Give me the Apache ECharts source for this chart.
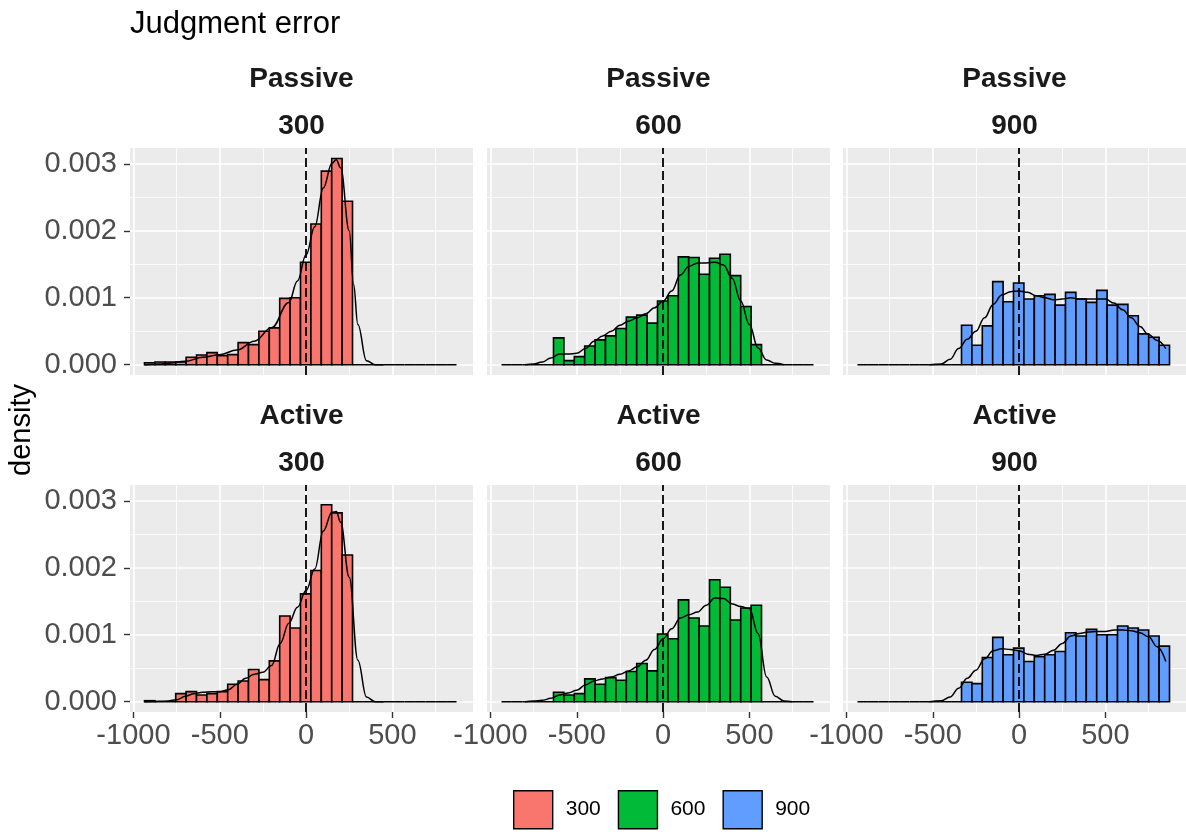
<!DOCTYPE html>
<html><head><meta charset="utf-8">
<script src="https://cdn.jsdelivr.net/npm/echarts@6/dist/echarts.min.js"></script>
<style>html,body{margin:0;padding:0;background:#fff}#c{width:1186px;height:832px}</style>
</head><body><div id="c"></div>
<script>
// ---------------- data ----------------
const categories = ['300', '600', '900'];
const conditions = ['Passive', 'Active'];
const xTicks = [-1000, -500, 0, 500];
const xMinor = [-750, -250, 250, 750];
const yTicks = [0, 0.001, 0.002, 0.003];
const yMinor = [0.0005, 0.0015, 0.0025];
const xRange = [-1020, 967];
const yRange = [-0.000154, 0.003236];
const binStart = -936;
const binWidth = 60.25;

const histPassive300 = [0.00003,0.00004,0.00004,0.00004,0.00011,0.000145,0.00018,0.000135,0.00015,0.00033,0.0003,0.0005,0.00055,0.00099,0.001,0.00153,0.0021,0.00289,0.00308,0.00244,0,0,0,0,0,0,0,0,0,0];
const histPassive600 = [0,0,0,0,0,0.0004,0.00006,0.00012,0.00028,0.00037,0.00043,0.00054,0.00071,0.00074,0.00062,0.00095,0.00103,0.00161,0.0016,0.00135,0.00159,0.00165,0.00133,0.00087,0.0003,0,0,0,0,0];
const histPassive900 = [0,0,0,0,0,0,0,0,0,0,0.00059,0.00029,0.00058,0.00124,0.00094,0.00122,0.00098,0.00103,0.00105,0.00089,0.00108,0.00098,0.00093,0.00111,0.00089,0.0009,0.00073,0.00046,0.00041,0.00029];
const histActive300 = [0.000015,0,0,0.00012,0.00015,0.0001,0.00012,0.00015,0.00026,0.00031,0.00048,0.00033,0.00061,0.00128,0.0011,0.00161,0.00196,0.00294,0.00282,0.00219,0,0,0,0,0,0,0,0,0,0];
const histActive600 = [0,0,0,0,0,0.00014,0.0001,0.00012,0.00034,0.00026,0.00036,0.00032,0.00045,0.00057,0.00046,0.00101,0.00094,0.00152,0.00125,0.00113,0.00182,0.00171,0.00122,0.0014,0.00144,0,0,0,0,0];
const histActive900 = [0,0,0,0,0,0,0,0,0,0,0.00029,0.00027,0.00066,0.00096,0.0007,0.0008,0.0006,0.00067,0.0007,0.00075,0.00103,0.00098,0.00108,0.001,0.001,0.00113,0.0011,0.00107,0.00098,0.00083];

const densPassive300 = [[-936,0],[-850,0.00001],[-800,0.00002],[-700,0.00005],[-600,0.00011],[-500,0.00015],[-400,0.00022],[-300,0.00035],[-200,0.00055],[-100,0.00093],[-50,0.00125],[0,0.00164],[50,0.00206],[100,0.00264],[150,0.00301],[175,0.00306],[200,0.00294],[250,0.002],[275,0.0012],[300,0.0006],[350,0.00006],[400,0],[450,0]];
const densPassive600 = [[-800,0],[-750,0.00001],[-700,0.00004],[-650,0.0001],[-600,0.00016],[-550,0.00016],[-500,0.00017],[-450,0.00024],[-400,0.00035],[-350,0.00043],[-300,0.0005],[-250,0.00059],[-200,0.00065],[-150,0.0007],[-100,0.00076],[-50,0.00085],[0,0.00095],[50,0.0011],[100,0.00134],[150,0.00147],[200,0.00152],[250,0.00152],[300,0.00153],[350,0.00149],[400,0.00129],[450,0.00095],[500,0.0006],[550,0.00025],[600,0.00007],[650,0.00002],[700,0]];
const densPassive900 = [[-520,0],[-450,0.00001],[-400,0.00008],[-350,0.00024],[-300,0.00038],[-250,0.0005],[-200,0.0007],[-150,0.0009],[-100,0.00104],[-50,0.00109],[0,0.0011],[50,0.00108],[100,0.00103],[150,0.001],[200,0.00097],[250,0.00098],[300,0.001],[350,0.00098],[400,0.00098],[450,0.00098],[500,0.00098],[550,0.00092],[600,0.00082],[650,0.0007],[700,0.00057],[750,0.00045],[800,0.00036],[850,0.00024]];
const densActive300 = [[-936,0],[-850,0.000005],[-800,0.00001],[-750,0.00003],[-700,0.00008],[-650,0.00012],[-600,0.00014],[-550,0.00015],[-500,0.00015],[-450,0.00018],[-400,0.00026],[-350,0.00035],[-300,0.00041],[-250,0.00044],[-200,0.00054],[-150,0.00087],[-100,0.00117],[-50,0.00141],[0,0.00166],[50,0.00198],[100,0.00255],[150,0.00283],[175,0.00284],[200,0.00268],[250,0.00186],[300,0.00062],[350,0.00007],[400,0],[450,0]];
const densActive600 = [[-800,0],[-750,0.00001],[-700,0.00002],[-650,0.00005],[-600,0.0001],[-550,0.00013],[-500,0.00017],[-450,0.00025],[-400,0.00031],[-350,0.00034],[-300,0.00037],[-250,0.00041],[-200,0.00046],[-150,0.00052],[-100,0.00062],[-50,0.00078],[0,0.00094],[50,0.00109],[100,0.00125],[150,0.0013],[200,0.00134],[250,0.00144],[300,0.00155],[350,0.00154],[400,0.00146],[450,0.00142],[500,0.00139],[550,0.00102],[600,0.00037],[650,0.00008],[700,0.00001],[750,0]];
const densActive900 = [[-520,0],[-450,0.000015],[-400,0.00007],[-350,0.0002],[-300,0.00035],[-250,0.00047],[-200,0.00064],[-150,0.00076],[-100,0.00079],[-50,0.00078],[0,0.00076],[50,0.00071],[100,0.00069],[150,0.00071],[200,0.00077],[250,0.00087],[300,0.00098],[350,0.00102],[400,0.00104],[450,0.00105],[500,0.00105],[550,0.00107],[600,0.00107],[650,0.00106],[700,0.00103],[750,0.00097],[800,0.00082],[850,0.0006]];

// ---------------- layout / style ----------------
const palette = ['#F8766D', '#00BA38', '#619CFF'];
const FONT = '"Liberation Sans", Arial, Helvetica, sans-serif';
const colLeft = [130, 487, 843];
const rowTop = [148, 485];
const gw = 343, gh = 227;

const panels = [
  {row:0, col:0, hist:histPassive300, dens:densPassive300},
  {row:0, col:1, hist:histPassive600, dens:densPassive600},
  {row:0, col:2, hist:histPassive900, dens:densPassive900},
  {row:1, col:0, hist:histActive300, dens:densActive300},
  {row:1, col:1, hist:histActive600, dens:densActive600},
  {row:1, col:2, hist:histActive900, dens:densActive900}
];

const grids = [], xAxes = [], yAxes = [], series = [], graphics = [];

graphics.push({type:'text', x:130, y:24, style:{text:'Judgment error', font:'31px ' + FONT, fill:'#000', align:'left', verticalAlign:'middle'}});
graphics.push({type:'text', x:22, y:430, rotation:Math.PI/2, style:{text:'density', font:'29px ' + FONT, fill:'#000', align:'center', verticalAlign:'middle'}});

panels.forEach((p, i) => {
  const color = palette[p.col];
  grids.push({left:colLeft[p.col], top:rowTop[p.row], width:gw, height:gh, show:true, backgroundColor:'#EBEBEB', borderWidth:0, containLabel:false});
  const bottom = p.row === 1, leftCol = p.col === 0;
  xAxes.push({
    type:'value', gridIndex:i, min:xRange[0], max:xRange[1], position:'bottom',
    axisLine:{show:false, onZero:false}, splitLine:{show:false},
    axisTick:{show:bottom, customValues:xTicks, length:6, lineStyle:{color:'#333333', width:1.4}},
    axisLabel:{show:bottom, customValues:xTicks, fontSize:29, color:'#4D4D4D', margin:9, fontFamily:FONT,
      formatter: v => String(Math.round(v))}
  });
  yAxes.push({
    type:'value', gridIndex:i, min:yRange[0], max:yRange[1], position:'left',
    axisLine:{show:false, onZero:false}, splitLine:{show:false},
    axisTick:{show:leftCol, customValues:yTicks, length:6, lineStyle:{color:'#333333', width:1.4}},
    axisLabel:{show:leftCol, customValues:yTicks, fontSize:29, color:'#4D4D4D', margin:13, fontFamily:FONT,
      formatter: v => Number(v).toFixed(3)}
  });
  // strip labels
  const cx = colLeft[p.col] + gw / 2;
  graphics.push({type:'text', x:cx, y:rowTop[p.row] - 69, style:{text:conditions[p.row], font:'bold 28px ' + FONT, fill:'#1A1A1A', align:'center', verticalAlign:'middle'}});
  graphics.push({type:'text', x:cx, y:rowTop[p.row] - 22, style:{text:categories[p.col], font:'bold 28px ' + FONT, fill:'#1A1A1A', align:'center', verticalAlign:'middle'}});

  const gridLines = []
    .concat(xTicks.map(v => ({xAxis:v, lineStyle:{width:1.6}})))
    .concat(xMinor.map(v => ({xAxis:v, lineStyle:{width:0.8}})))
    .concat(yTicks.map(v => ({yAxis:v, lineStyle:{width:1.6}})))
    .concat(yMinor.map(v => ({yAxis:v, lineStyle:{width:0.8}})));

  // background grid lines (white), drawn through the axes
  series.push({
    type:'line', name:'grid' + i, xAxisIndex:i, yAxisIndex:i, z:1, data:[], silent:true, animation:false,
    markLine:{silent:true, z:1, precision:8, symbol:'none', animation:false, label:{show:false}, emphasis:{disabled:true},
      lineStyle:{color:'#FFFFFF', type:'solid'}, data:gridLines}
  });
  series.push({
    type:'custom', name:categories[p.col], xAxisIndex:i, yAxisIndex:i, z:3,
    itemStyle:{color:color},
    data: p.hist.map((v, k) => [binStart + k * binWidth, binStart + (k + 1) * binWidth, v]),
    encode:{x:[0, 1], y:2},
    renderItem: (params, api) => {
      const a = api.coord([api.value(0), api.value(2)]);
      const b = api.coord([api.value(1), 0]);
      return {type:'rect', shape:{x:a[0], y:a[1], width:b[0] - a[0], height:b[1] - a[1]},
        style:{fill:color, stroke:'#000', lineWidth:1.6}};
    }
  });
  series.push({
    type:'line', name:'dens' + i, xAxisIndex:i, yAxisIndex:i, z:4,
    data:p.dens, showSymbol:false, symbol:'none', smooth:0.4, smoothMonotone:'x',
    lineStyle:{color:'#000', width:1.5}, animation:false,
    markLine:{silent:true, z:5, precision:8, symbol:'none', animation:false, label:{show:false},
      lineStyle:{color:'#000', type:[9, 4], width:1.8}, data:[{xAxis:0}]}
  });
});

const chart = echarts.init(document.getElementById('c'));
chart.setOption({
  animation:false,
  backgroundColor:'#FFFFFF',
  textStyle:{fontFamily:FONT},
  grid:grids, xAxis:xAxes, yAxis:yAxes, series:series,
  graphic:graphics,
  legend:{
    left:513, top:790, padding:0, orient:'horizontal', selectedMode:false,
    itemWidth:39, itemHeight:38, itemGap:17,
    textStyle:{fontSize:21, color:'#000', fontFamily:FONT, padding:[0, 0, 0, 8]},
    data: categories.map((c, k) => ({name:c, icon:'rect', itemStyle:{color:palette[k], borderColor:'#000', borderWidth:1.4}}))
  }
});
</script></body></html>
